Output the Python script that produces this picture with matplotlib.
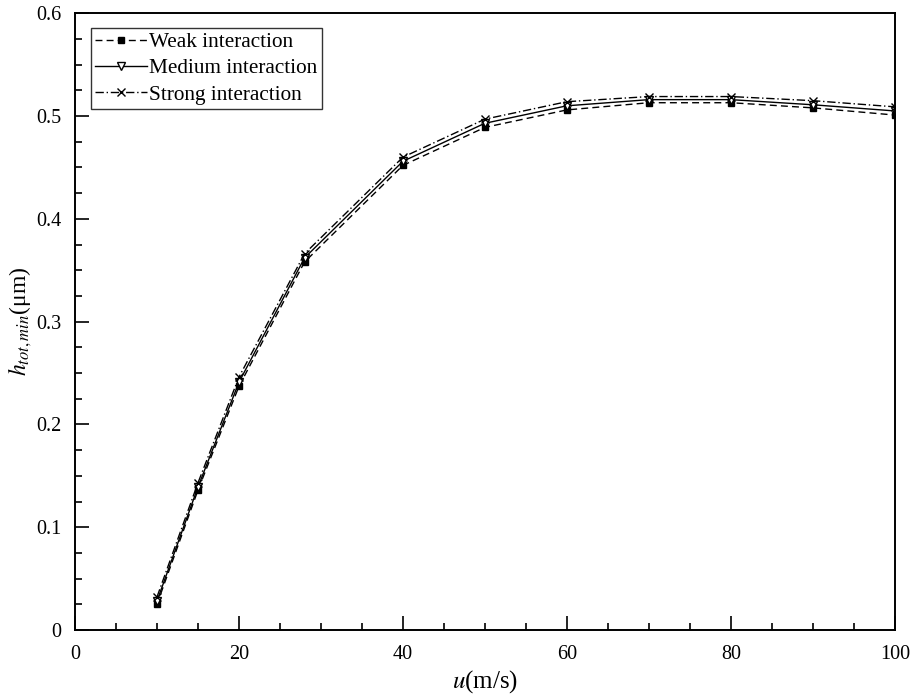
import matplotlib
matplotlib.use('Agg')
import matplotlib.pyplot as plt
from matplotlib.ticker import MultipleLocator, FuncFormatter

matplotlib.rcParams.update(
    {
        'font.family': 'Liberation Serif',
        'mathtext.fontset': 'stix',
        'font.size': 14
    }
)

speed = [10, 15, 20, 28, 40, 50, 60, 70, 80, 90, 100]
weak = [0.025, 0.136, 0.237, 0.358, 0.452, 0.489, 0.506, 0.513, 0.513, 0.508, 0.501]
medium = [0.028, 0.139, 0.241, 0.362, 0.456, 0.493, 0.510, 0.516, 0.516, 0.511, 0.505]
strong = [0.032, 0.143, 0.246, 0.366, 0.460, 0.497, 0.514, 0.519, 0.519, 0.515, 0.509]

fig = plt.figure(figsize=(9.14, 7), dpi=100)
ax = fig.add_axes([0.082, 0.1, 0.897, 0.881])

ax.plot(speed, weak, color='black', linestyle=(0, (5, 3)), linewidth=1,
        marker='s', markersize=5, markerfacecolor='black', label='Weak interaction')
ax.plot(speed, medium, color='black', linestyle='-', linewidth=1,
        marker='v', markersize=6, markerfacecolor='white', label='Medium interaction')
ax.plot(speed, strong, color='black', linestyle=(0, (6, 2, 1, 2)), linewidth=1,
        marker='x', markersize=6, label='Strong interaction')

ax.set_xlim(0, 100)
ax.set_ylim(0, 0.6)
ax.xaxis.set_major_locator(MultipleLocator(20))
ax.xaxis.set_minor_locator(MultipleLocator(5))
ax.yaxis.set_major_locator(MultipleLocator(0.1))
ax.yaxis.set_minor_locator(MultipleLocator(0.025))
ax.yaxis.set_major_formatter(FuncFormatter(lambda v, p: '0' if abs(v) < 1e-9 else f'{v:.1f}'))
ax.tick_params(which='both', direction='in', top=False, right=False, labelsize=14.5)
ax.tick_params(which='major', length=10, width=1.2)
ax.tick_params(which='minor', length=5, width=1.2)
ax.tick_params(axis='y', which='major', pad=10)
ax.tick_params(axis='x', which='major', pad=11)
for s in ax.spines.values():
    s.set_linewidth(1.4)

ax.set_xlabel('$u$(m/s)', fontsize=18, labelpad=3)
ax.set_ylabel('$h_{tot,min}$(μm)', fontsize=17, labelpad=1)

leg = ax.legend(loc='upper left', bbox_to_anchor=(0.0195, 0.976), fontsize=15.3,
                frameon=True, fancybox=False, edgecolor='black', handlelength=2.45,
                handletextpad=0.1, borderpad=0.2, borderaxespad=0, labelspacing=0.3)
leg.get_frame().set_linewidth(1)

fig.savefig('out.png', dpi=100)
